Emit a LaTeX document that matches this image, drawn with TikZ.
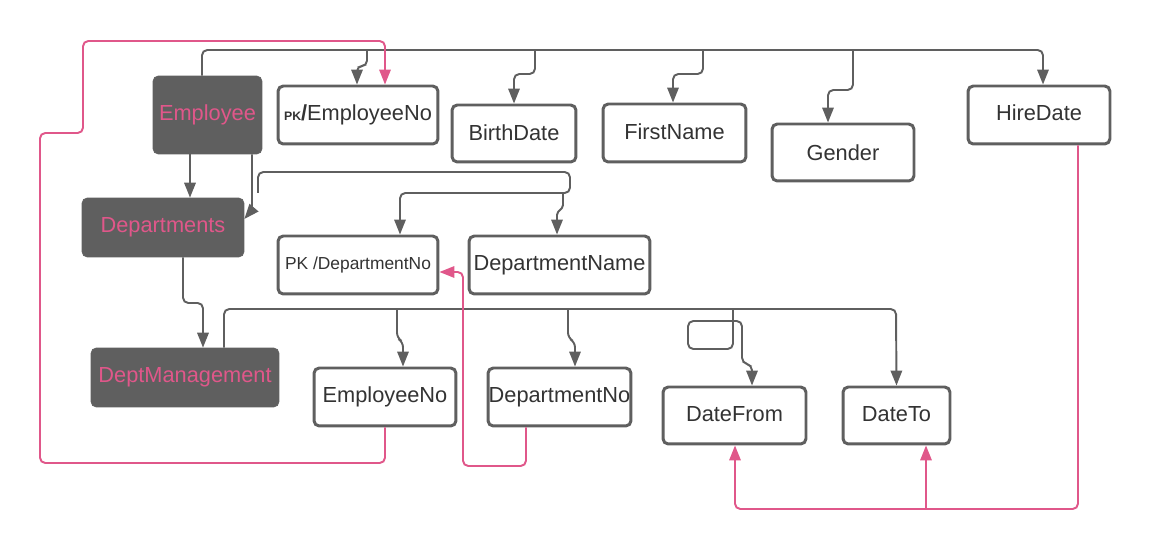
\documentclass[tikz,border=0pt]{standalone}
\usepackage{fontspec}
\setmainfont{Liberation Sans}
\usetikzlibrary{arrows.meta}
\definecolor{boxgray}{HTML}{5F5F5F}
\definecolor{relpink}{HTML}{E0578A}
\definecolor{txtgray}{HTML}{333333}

\begin{document}
\begin{tikzpicture}[x=0.02cm, y=-0.02cm,
	every node/.style={font=\fontsize{12.4}{14}\selectfont, inner sep=0pt},
	entity/.style={fill=boxgray, draw=boxgray, rounded corners=3pt, text=relpink},
	attr/.style={draw=boxgray, line width=1.7pt, rounded corners=3pt, text=txtgray, fill=white},
	link/.style={draw=boxgray, line width=1.1pt, rounded corners=3pt, -{Triangle[length=8.5pt,width=6.5pt]}},
	fk/.style={draw=relpink, line width=1.1pt, rounded corners=3pt, -{Triangle[length=8.5pt,width=6.5pt]}}]
		\useasboundingbox (0,0) rectangle (1150,550);
		
		\node[entity, minimum width=2.18cm, minimum height=1.56cm] (emp) at (207.5,115) {Employee};
		\node[entity, minimum width=3.24cm, minimum height=1.18cm] (dept) at (163,227.5) {Departments};
		\node[entity, minimum width=3.76cm, minimum height=1.18cm] (mgmt) at (185,377.5) {DeptManagement};
		
		\node[attr, minimum width=3.2cm, minimum height=1.16cm] (pkemp) at (358,115) {{\fontsize{7}{8}\selectfont\bfseries PK}{\bfseries /}EmployeeNo};
		\node[attr, minimum width=2.48cm, minimum height=1.14cm] (birth) at (514,133.5) {\raisebox{1.5pt}{BirthDate}};
		\node[attr, minimum width=2.86cm, minimum height=1.16cm] (first) at (674.5,133) {\raisebox{1.5pt}{FirstName}};
		\node[attr, minimum width=2.84cm, minimum height=1.14cm] (gender) at (843,152.5) {Gender};
		\node[attr, minimum width=2.84cm, minimum height=1.16cm] (hire) at (1039,115) {\raisebox{3pt}{HireDate}};
		
		\node[attr, minimum width=3.2cm, minimum height=1.16cm, font=\fontsize{9.9}{12}\selectfont] (pkdept) at (358,265) {PK /DepartmentNo};
		\node[attr, minimum width=3.62cm, minimum height=1.16cm] (dname) at (559.5,265) {DepartmentName};
		
		\node[attr, minimum width=2.84cm, minimum height=1.16cm] (eno) at (385,397) {\raisebox{2pt}{EmployeeNo}};
		\node[attr, minimum width=2.86cm, minimum height=1.16cm] (dno) at (559.5,397) {DepartmentNo};
		\node[attr, minimum width=2.86cm, minimum height=1.14cm] (dfrom) at (734.5,415.5) {\raisebox{2pt}{DateFrom}};
		\node[attr, minimum width=2.14cm, minimum height=1.14cm] (dto) at (896.5,415.5) {\raisebox{2pt}{DateTo}};
		
		% branch points
		\coordinate (b1) at (367,50);
		\coordinate (b2) at (535,50);
		\coordinate (b3) at (703,50);
		\coordinate (b4) at (853,50);
		\coordinate (dsrc) at (258,193);
		\coordinate (dsplit) at (563,193);
		\coordinate (m1) at (397,309);
		\coordinate (m2) at (568,309);
		\coordinate (m3) at (733,309);
		\coordinate (hsplit) at (926,509);
		
		% Employee
		\draw[link] (emp.north -| 202,0) -- (202,50) -- (1043,50) -- (hire.north -| 1043,0);
		\draw[link] (b1) -- (367,66) -- (357,66) -- (pkemp.north -| 357,0);
		\draw[link] (b2) -- (535,74) -- (514,74) -- (birth.north);
		\draw[link] (b3) -- (703,74) -- (673,74) -- (first.north -| 673,0);
		\draw[link] (b4) -- (853,90) -- (828,90) -- (gender.north -| 828,0);
		\draw[link] (emp.south -| 190,0) -- (dept.north -| 190,0);
		\draw[link] (emp.south -| 252,0) -- (252,210) -- (dept.east |- 0,219);
		
		% Departments
		\draw[link] (dsrc) -- (258,172) -- (570,172) -- (570,193) -- (400,193) -- (pkdept.north -| 400,0);
		\draw[link, rounded corners=1pt] (dsplit) -- (563,207) -- (557,213) -- (dname.north -| 557,0);
		\draw[link] (dept.south -| 183,0) -- (183,303) -- (203,303) -- (mgmt.north -| 203,0);
		
		% DeptManagement
		\draw[link] (mgmt.north -| 224,0) -- (224,309) -- (896,309) -- (dto.north);
		\draw[link] (m1) -- (397,338) -- (403,342) -- (eno.north -| 403,0);
		\draw[link] (m2) -- (568,338) -- (575,342) -- (dno.north -| 575,0);
		\draw[link] (m3) -- (733,349) -- (688,349) -- (688,321) -- (742,321) -- (742,363) -- (752,365) -- (dfrom.north -| 752,0);
		
		% keys
		\draw[fk] (eno.south) -- (385,463) -- (40,463) -- (40,133) -- (83,133) -- (83,41) -- (385,41) -- (pkemp.north -| 385,0);
		\draw[fk] (dno.south -| 526,0) -- (526,466) -- (463,466) -- (463,272) -- (pkdept.east |- 0,272);
		\draw[fk] (hire.south -| 1078,0) -- (1078,509) -- (735,509) -- (dfrom.south -| 735,0);
		\draw[fk] (hsplit) -- (dto.south -| 926,0);
	\end{tikzpicture}
\end{document}
